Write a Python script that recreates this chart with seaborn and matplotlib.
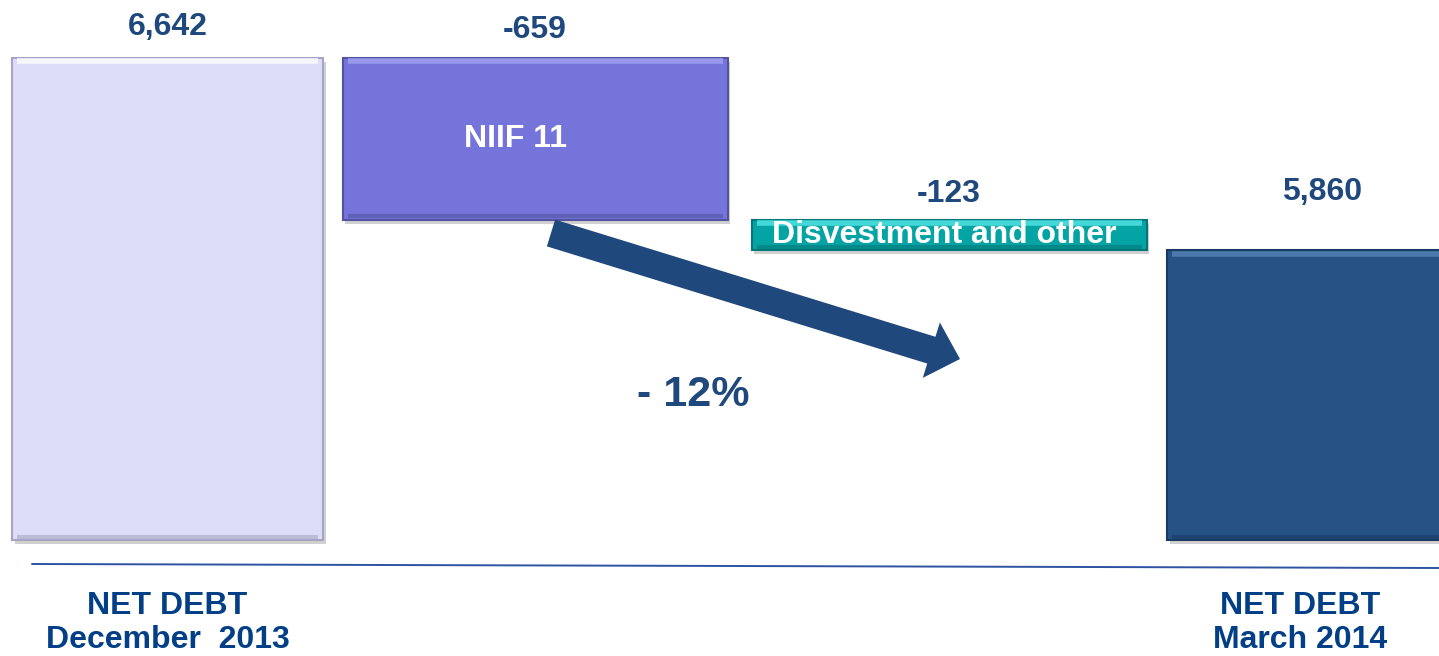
import matplotlib
matplotlib.use("Agg")
import matplotlib.pyplot as plt
import matplotlib.patheffects as pe
from matplotlib.lines import Line2D
from matplotlib.patches import Polygon
import numpy as np
import pandas as pd
import seaborn as sns

# ---------------------------------------------------------------------------
# Data
# ---------------------------------------------------------------------------
STEPS = ["NET DEBT\nDecember  2013", "NIIF 11", "Disvestment and other",
         "NET DEBT\nMarch 2014"]
VALUES = [6642, -659, -123, 5860]
IS_TOTAL = [True, False, False, True]
VALUE_LABELS = ["6,642", "-659", "-123", "5,860"]
CHANGE_LABEL = "- 12%"

# ---------------------------------------------------------------------------
# Style / layout
# ---------------------------------------------------------------------------
FACE = ["#DDDDFA", "#7474DB", "#05A4A4", "#265285"]
EDGE = ["#A6A6C4", "#5353A0", "#037777", "#1A3A61"]
HILITE = ["#F6F6FF", "#9898EC", "#45D8D8", "#4B79AE"]
TEXT_BLUE = "#1F497D"
LABEL_BLUE = "#023F86"
LINE_BLUE = "#2E53A2"

W, H = 1439, 656
PX_X0, PX_UNIT = 167.5, 385.0        # pixel x of first bar centre, px per step
X_POS = [0, 0.955, 2.03, 3]
WIDTHS = [0.808, 1.0, 1.026, 0.808]
Y_FLOOR = 4680                        # value axis is truncated here
PX_FLOOR, PX_TOP = 540, 58            # pixel rows of the floor and first total
LABEL_OFF_PX = [31, 28, 26, 58]       # value label height above bar top
INNER_DX_PX = [0, -20, -5, 0]
BOTTOM_DX_PX = [0, 0, 0, -22]

sns.set_theme(style="white")
plt.rcParams["font.family"] = ["Liberation Sans", "DejaVu Sans"]

# waterfall extents
lo, hi = [], []
run = 0
for v, tot in zip(VALUES, IS_TOTAL):
    if tot:
        lo.append(Y_FLOOR)
        hi.append(v)
        run = v
    else:
        hi.append(run)
        run += v
        lo.append(run)
df = pd.DataFrame({"step": STEPS, "lo": lo, "hi": hi, "x": X_POS, "w": WIDTHS})

scale = (PX_FLOOR - PX_TOP) / (VALUES[0] - Y_FLOOR)   # px per unit

fig = plt.figure(figsize=(W / 100, H / 100), dpi=100)
ax = fig.add_axes([0, 0, 1, 1])
ax.set_xlim(-PX_X0 / PX_UNIT, (W - PX_X0) / PX_UNIT)
ax.set_ylim(Y_FLOOR - (H - PX_FLOOR) / scale, Y_FLOOR + PX_FLOOR / scale)
ax.axis("off")

bars = ax.bar(df["x"], df["hi"] - df["lo"], bottom=df["lo"], width=df["w"],
              color=FACE, edgecolor=EDGE, linewidth=1.5, zorder=2)
for b in bars:
    b.set_path_effects([
        pe.SimplePatchShadow(offset=(2, -3), shadow_rgbFace="#8a8a8a", alpha=0.4),
        pe.Normal(),
    ])

# bevel hints
for i, r in df.iterrows():
    inset = 5 / PX_UNIT
    ax.hlines(r["hi"] - 3.5 / scale, r["x"] - r["w"] / 2 + inset,
              r["x"] + r["w"] / 2 - inset, color=HILITE[i], lw=4, zorder=3)
    ax.hlines(r["lo"] + 3.5 / scale, r["x"] - r["w"] / 2 + inset,
              r["x"] + r["w"] / 2 - inset, color=EDGE[i], lw=3, alpha=0.6, zorder=3)

# value labels
for i, r in df.iterrows():
    ax.annotate(VALUE_LABELS[i], (r["x"], r["hi"]),
                xytext=(0, LABEL_OFF_PX[i] * 0.72), textcoords="offset points",
                ha="center", va="center", fontsize=23, fontweight="bold",
                color=TEXT_BLUE)

# labels inside the change bars
for i, r in df.iterrows():
    if not IS_TOTAL[i]:
        ax.text(r["x"] + INNER_DX_PX[i] / PX_UNIT, (r["lo"] + r["hi"]) / 2,
                r["step"], ha="center", va="center", fontsize=23,
                fontweight="bold", color="white", zorder=4)

# category labels under the totals
for i, r in df.iterrows():
    if IS_TOTAL[i]:
        ax.text(r["x"] + BOTTOM_DX_PX[i] / PX_UNIT, 1 - 623 / H, r["step"],
                transform=ax.get_xaxis_transform(), ha="center", va="center",
                fontsize=23, fontweight="bold", color=LABEL_BLUE,
                linespacing=1.2)

# baseline rule
fig.add_artist(Line2D([32 / W, 1], [1 - 564 / H, 1 - 568 / H],
                      transform=fig.transFigure, color=LINE_BLUE, lw=1.4))

# trend arrow
tail = np.array([551.0, 233.0])
tip = np.array([960.0, 359.0])
d = (tip - tail) / np.linalg.norm(tip - tail)
n = np.array([-d[1], d[0]])
base = tip - d * 30
pts = [tail + n * 14, base + n * 14, base + n * 29, tip,
       base - n * 29, base - n * 14, tail - n * 14]
pts = [(p[0] / W, 1 - p[1] / H) for p in pts]
fig.add_artist(Polygon(pts, closed=True, transform=fig.transFigure,
                       facecolor=TEXT_BLUE, edgecolor="none"))

fig.text(693 / W, 1 - 395 / H, CHANGE_LABEL, ha="center", va="center",
         fontsize=31, fontweight="bold", color=TEXT_BLUE)

fig.savefig("out.png", dpi=100, facecolor="white")
plt.close(fig)
